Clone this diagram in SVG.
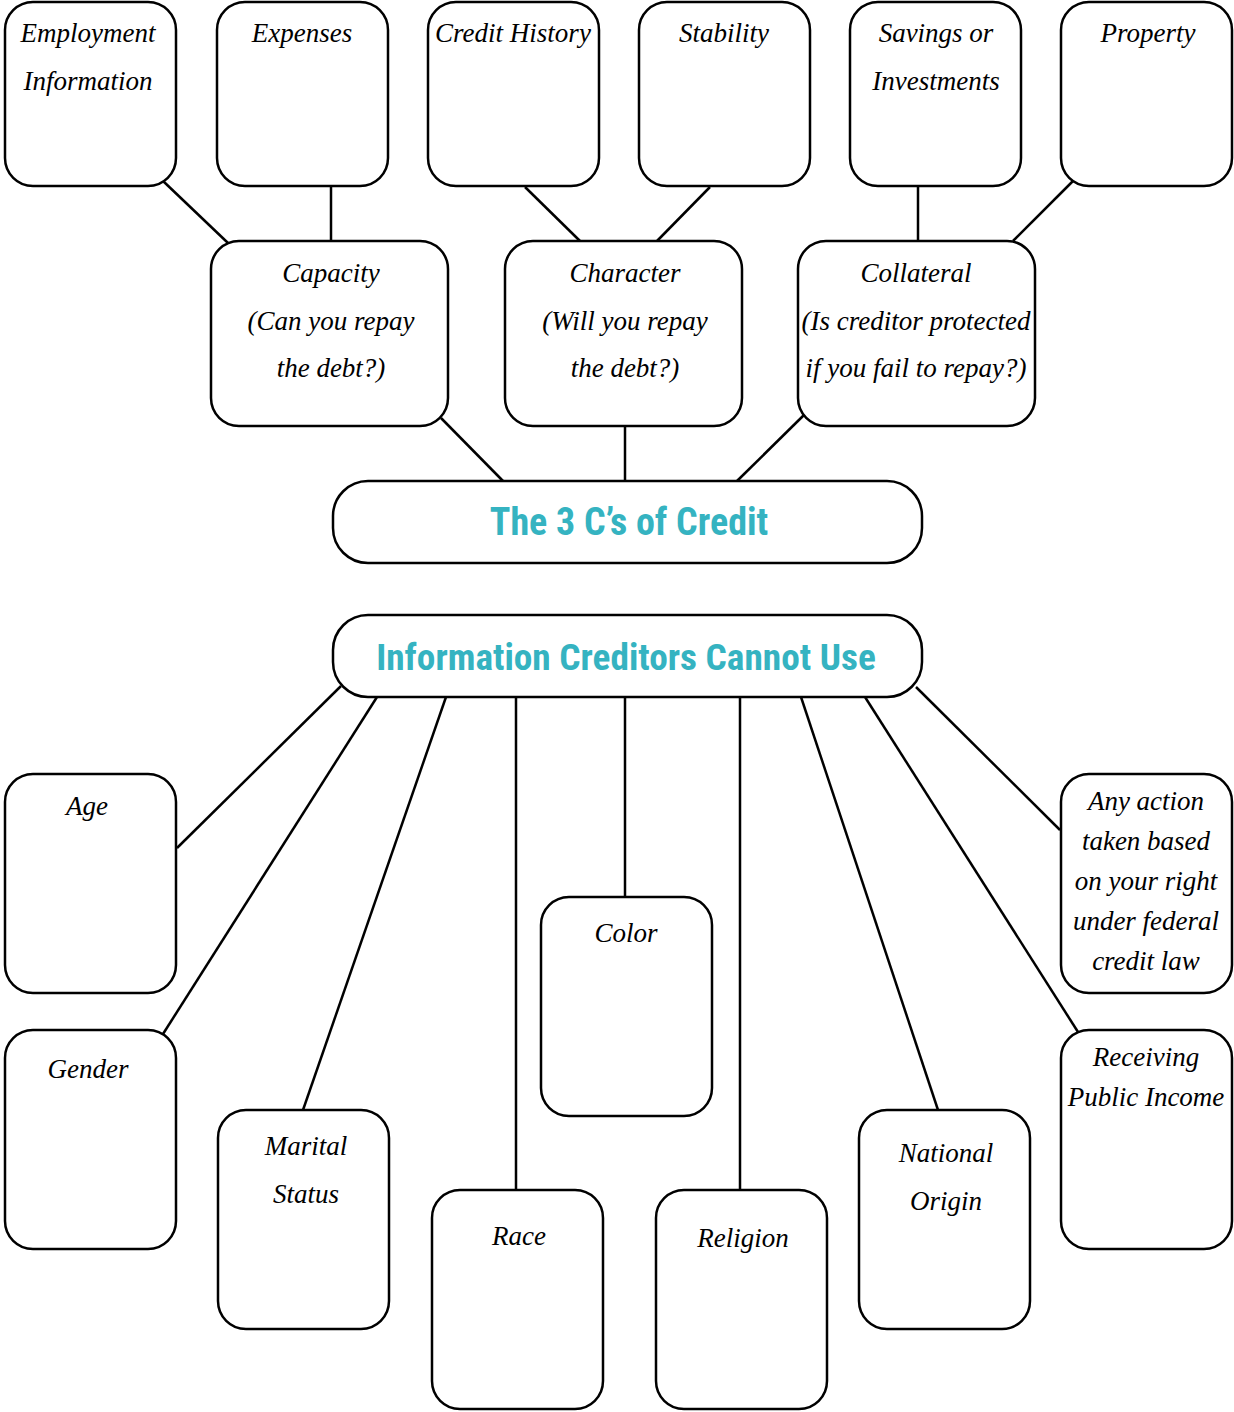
<svg xmlns="http://www.w3.org/2000/svg" width="1234" height="1412" viewBox="0 0 1234 1412">
<style>
.box{fill:#fff;stroke:#000;stroke-width:2.5}
.ln{stroke:#000;stroke-width:2.5;fill:none}
.h{font-family:"Liberation Serif","DejaVu Serif",serif;font-style:italic;font-size:27px;fill:#000;text-anchor:middle}
.t{font-family:"Liberation Sans Narrow","Roboto Condensed","Liberation Sans",sans-serif;font-weight:bold;font-size:38px;fill:#35B3C1;text-anchor:middle}
</style>
<rect width="1234" height="1412" fill="#fff"/>
<g id="connectors">
<line class="ln" x1="163" y1="181" x2="228" y2="243"/>
<line class="ln" x1="331" y1="186" x2="331" y2="241"/>
<line class="ln" x1="525" y1="187" x2="580" y2="241"/>
<line class="ln" x1="710" y1="187" x2="657" y2="241"/>
<line class="ln" x1="918" y1="186" x2="918" y2="241"/>
<line class="ln" x1="1073" y1="181" x2="1013" y2="241"/>
<line class="ln" x1="441" y1="418" x2="503" y2="481"/>
<line class="ln" x1="625" y1="426" x2="625" y2="481"/>
<line class="ln" x1="804" y1="415" x2="737" y2="481"/>
<line class="ln" x1="341" y1="686" x2="177" y2="848"/>
<line class="ln" x1="377" y1="697" x2="163" y2="1034"/>
<line class="ln" x1="446" y1="697" x2="303" y2="1110"/>
<line class="ln" x1="516" y1="697" x2="516" y2="1190"/>
<line class="ln" x1="625" y1="697" x2="625" y2="897"/>
<line class="ln" x1="740" y1="697" x2="740" y2="1190"/>
<line class="ln" x1="801" y1="697" x2="938" y2="1110"/>
<line class="ln" x1="865" y1="697" x2="1078" y2="1032"/>
<line class="ln" x1="916" y1="687" x2="1060" y2="830"/>
</g>
<g id="employment"><rect class="box" x="5" y="2" width="171" height="184" rx="28"/><text class="h" x="88" y="42">Employment</text><text class="h" x="88" y="90">Information</text></g>
<g id="expenses"><rect class="box" x="217" y="2" width="171" height="184" rx="28"/><text class="h" x="302" y="42">Expenses</text></g>
<g id="credit-history"><rect class="box" x="428" y="2" width="171" height="184" rx="28"/><text class="h" x="513" y="42">Credit History</text></g>
<g id="stability"><rect class="box" x="639" y="2" width="171" height="184" rx="28"/><text class="h" x="724" y="42">Stability</text></g>
<g id="savings"><rect class="box" x="850" y="2" width="171" height="184" rx="28"/><text class="h" x="936" y="42">Savings or</text><text class="h" x="936" y="90">Investments</text></g>
<g id="property"><rect class="box" x="1061" y="2" width="171" height="184" rx="28"/><text class="h" x="1148" y="42">Property</text></g>
<g id="capacity"><rect class="box" x="211" y="241" width="237" height="185" rx="28"/><text class="h" x="331" y="282">Capacity</text><text class="h" x="331" y="330">(Can you repay</text><text class="h" x="331" y="377">the debt?)</text></g>
<g id="character"><rect class="box" x="505" y="241" width="237" height="185" rx="28"/><text class="h" x="625" y="282">Character</text><text class="h" x="625" y="330">(Will you repay</text><text class="h" x="625" y="377">the debt?)</text></g>
<g id="collateral"><rect class="box" x="798" y="241" width="237" height="185" rx="28"/><text class="h" x="916" y="282">Collateral</text><text class="h" x="916" y="330">(Is creditor protected</text><text class="h" x="916" y="377">if you fail to repay?)</text></g>
<g id="three-cs"><rect class="box" x="333" y="481" width="589" height="82" rx="35"/><text class="t" x="629" y="535">The 3 C’s of Credit</text></g>
<g id="cannot-use"><rect class="box" x="333" y="615" width="589" height="82" rx="35"/><text class="t" x="626" y="670" style="font-size:37.3px">Information Creditors Cannot Use</text></g>
<g id="age"><rect class="box" x="5" y="774" width="171" height="219" rx="28"/><text class="h" x="87" y="815">Age</text></g>
<g id="gender"><rect class="box" x="5" y="1030" width="171" height="219" rx="28"/><text class="h" x="88" y="1078">Gender</text></g>
<g id="marital"><rect class="box" x="218" y="1110" width="171" height="219" rx="28"/><text class="h" x="306" y="1155">Marital</text><text class="h" x="306" y="1203">Status</text></g>
<g id="race"><rect class="box" x="432" y="1190" width="171" height="219" rx="28"/><text class="h" x="519" y="1245">Race</text></g>
<g id="color"><rect class="box" x="541" y="897" width="171" height="219" rx="28"/><text class="h" x="626" y="942">Color</text></g>
<g id="religion"><rect class="box" x="656" y="1190" width="171" height="219" rx="28"/><text class="h" x="743" y="1247">Religion</text></g>
<g id="national-origin"><rect class="box" x="859" y="1110" width="171" height="219" rx="28"/><text class="h" x="946" y="1162">National</text><text class="h" x="946" y="1210">Origin</text></g>
<g id="receiving"><rect class="box" x="1061" y="1030" width="171" height="219" rx="28"/><text class="h" x="1146" y="1066">Receiving</text><text class="h" x="1146" y="1106">Public Income</text></g>
<g id="any-action"><rect class="box" x="1061" y="774" width="171" height="219" rx="28"/><text class="h" x="1146" y="810">Any action</text><text class="h" x="1146" y="850">taken based</text><text class="h" x="1146" y="890">on your right</text><text class="h" x="1146" y="930">under federal</text><text class="h" x="1146" y="970">credit law</text></g>
</svg>
